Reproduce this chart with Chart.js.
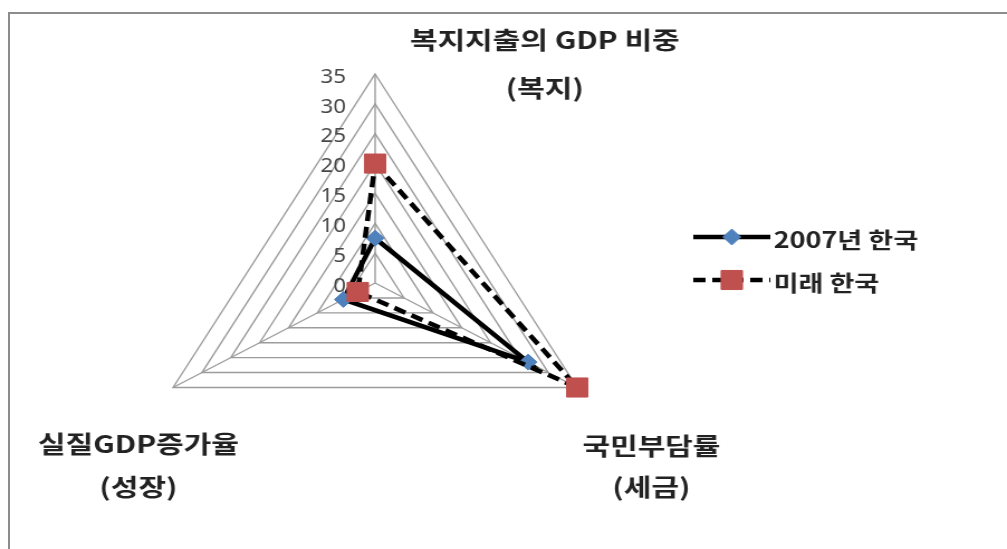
<!DOCTYPE html>
<html>
<head>
<meta charset="utf-8">
<script src="https://cdn.jsdelivr.net/npm/chart.js@4.4.1/dist/chart.umd.min.js"></script>
<style>
	html, body { margin: 0; padding: 0; background: #fff; }
	#frame {
		position: absolute; left: 8px; top: 12px; width: 999px; height: 537px;
		border-top: 2px solid #8c8c8c; border-left: 2px solid #8c8c8c; box-sizing: border-box;
	}
	/* chart is drawn a bit narrow and stretched sideways, like the original sheet */
	#wrap {
		position: absolute; left: 0; top: 0; width: 902px; height: 549px;
		transform: scaleX(1.1164); transform-origin: 0 0;
	}
</style>
</head>
<body>
<div id="frame"></div>
<div id="wrap"><canvas id="myChart" width="902" height="549"></canvas></div>
<script>
var categories = [ "복지", "세금", "성장" ];
var axisTitles = [ [ "복지지출의 GDP 비중", "(복지)" ], [ "국민부담률", "(세금)" ],
		[ "실질GDP증가율", "(성장)" ] ];
var seriesNames = [ "2007년 한국", "미래 한국" ];
var korea2007 = [ 7.5, 26.5, 5.5 ];
var koreaFuture = [ 20, 35, 3 ];
var tickValues = [ 0, 5, 10, 15, 20, 25, 30, 35 ];

// stretched text, the fonts in the sheet are wide
function wideText(ctx, text, x, y, sx) {
	ctx.save();
	ctx.translate(x, y);
	ctx.scale(sx, 1);
	ctx.fillText(text, 0, 0);
	ctx.restore();
}

function marker(ctx, style, r, x, y, fill) {
	ctx.save();
	ctx.fillStyle = fill;
	ctx.strokeStyle = fill;
	ctx.lineWidth = 1;
	ctx.setLineDash([]);
	ctx.beginPath();
	if (style == 'rect') {
		var s = r * Math.SQRT1_2;
		ctx.rect(x - s, y - s, 2 * s, 2 * s);
	} else {
		ctx.moveTo(x - r, y);
		ctx.lineTo(x, y - r);
		ctx.lineTo(x + r, y);
		ctx.lineTo(x, y + r);
		ctx.closePath();
	}
	ctx.fill();
	ctx.stroke();
	ctx.restore();
}

var textPlugin = {
	id : 'axisText',
	afterDraw : function(chart) {
		var ctx = chart.ctx;
		var r = chart.scales.r;
		ctx.save();

		// value labels to the left of the top axis
		ctx.font = '20px "Noto Sans", sans-serif';
		ctx.fillStyle = '#474747';
		ctx.textAlign = 'right';
		ctx.textBaseline = 'middle';
		r.ticks.forEach(function(t) {
			var p = r.getPointPositionForValue(0, t.value);
			ctx.fillText(String(t.value), p.x - 26, p.y + 3);
		});

		// axis titles
		var spots = [ [ 488, 40, 88 ], [ 583.5, 446, 487 ], [ 124, 444, 487 ] ];
		ctx.font = 'bold 24px "Noto Sans CJK KR", sans-serif';
		ctx.fillStyle = '#222';
		ctx.textAlign = 'center';
		axisTitles.forEach(function(lines, i) {
			wideText(ctx, lines[0], spots[i][0], spots[i][1], 1.12);
			wideText(ctx, lines[1], spots[i][0], spots[i][2], 1.12);
		});

		// legend: line with the marker in the middle
		var rows = [ 237, 280 ];
		ctx.font = 'bold 22px "Noto Sans CJK KR", sans-serif';
		chart.data.datasets.forEach(function(ds, i) {
			var y = rows[i];
			ctx.save();
			ctx.strokeStyle = ds.borderColor;
			ctx.lineWidth = ds.borderWidth;
			ctx.setLineDash(ds.borderDash || []);
			ctx.beginPath();
			ctx.moveTo(621, y);
			ctx.lineTo(690, y);
			ctx.stroke();
			ctx.restore();
			marker(ctx, ds.pointStyle, ds.pointRadius, 655.5, y, ds.pointBackgroundColor);
			ctx.textAlign = 'left';
			ctx.fillStyle = '#222';
			wideText(ctx, ds.label, 693, y + 3, 1.1);
		});
		ctx.restore();
	}
};

var ctx = document.getElementById("myChart").getContext('2d');
var myRadar = new Chart(ctx, {
	type : 'radar',
	data : {
		labels : categories,
		datasets : [ {
			label : seriesNames[0],
			data : korea2007,
			borderColor : '#000',
			borderWidth : 4.5,
			backgroundColor : 'rgba(0,0,0,0)',
			fill : false,
			pointStyle : 'rectRot',
			pointRadius : 8,
			pointBorderWidth : 1,
			pointBackgroundColor : '#4F81BD',
			pointBorderColor : '#4F81BD',
			order : 1,
			clip : false
		}, {
			label : seriesNames[1],
			data : koreaFuture,
			borderColor : '#000',
			borderWidth : 4.5,
			borderDash : [ 11, 6 ],
			backgroundColor : 'rgba(0,0,0,0)',
			fill : false,
			pointStyle : 'rect',
			pointRadius : 13.5,
			pointBorderWidth : 1,
			pointBackgroundColor : '#C0504D',
			pointBorderColor : '#C0504D',
			order : 0,
			clip : false
		} ]
	},
	options : {
		responsive : false,
		animation : false,
		devicePixelRatio : 1,
		layout : {
			padding : { left : 126, right : 356, top : 74, bottom : 56 }
		},
		elements : {
			line : { tension : 0 }
		},
		plugins : {
			legend : { display : false },
			tooltip : { enabled : false }
		},
		scales : {
			r : {
				min : tickValues[0],
				max : tickValues[tickValues.length - 1],
				ticks : { display : false, stepSize : tickValues[1] - tickValues[0] },
				pointLabels : { display : false },
				grid : { color : '#9c9c9c', lineWidth : 1.4 },
				angleLines : { color : '#9c9c9c', lineWidth : 1.4 }
			}
		}
	},
	plugins : [ textPlugin ]
});
</script>
</body>
</html>
